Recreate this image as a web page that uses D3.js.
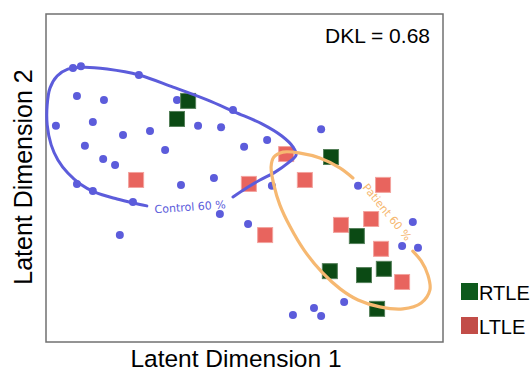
<!DOCTYPE html>
<html>
<head>
<meta charset="utf-8">
<script src="https://cdn.jsdelivr.net/npm/d3@7"></script>
<style>
  body { margin: 0; background: #fff; }
  text { font-family: "Liberation Sans", Arial, sans-serif; }
</style>
</head>
<body>
<div id="chart"></div>
<script>
// latent coordinates (0-100 on both dims)
const control = [
  [6.8, 83.5], [8.8, 84.1], [23.4, 81.4], [7.8, 75.0], [14.6, 73.8], [33.0, 73.8],
  [47.1, 70.7], [2.5, 65.9], [11.8, 67.1], [19.4, 63.1], [26.2, 64.3], [38.3, 65.9],
  [44.1, 65.5], [9.8, 59.8], [30.0, 58.5], [49.9, 59.5], [14.4, 55.8], [17.4, 54.0],
  [7.8, 48.2], [11.8, 46.0], [21.9, 42.7], [34.0, 47.9], [42.3, 50.0], [43.8, 39.0],
  [50.9, 36.0], [18.6, 32.6], [56.9, 47.6], [78.6, 47.6], [92.4, 36.6], [89.7, 29.3],
  [93.7, 28.7], [75.1, 12.2], [67.5, 10.4], [69.3, 7.9], [62.2, 8.2], [69.3, 64.9],
  [55.7, 61.6]
];
const ltle = [
  [22.7, 49.4], [51.1, 48.2], [55.2, 32.6], [60.5, 57.3], [65.2, 49.4],
  [84.9, 47.9], [74.3, 35.7], [81.9, 37.5], [84.4, 28.4], [89.7, 18.3]
];
const rtle = [
  [35.8, 73.5], [33.0, 68.0], [71.8, 56.4], [78.3, 32.3],
  [71.5, 21.6], [80.1, 20.4], [85.1, 22.3], [83.4, 10.1]
];

// 60 % density contours (open where the labels sit)
const controlContour = [
  [47.1, 44.2], [50.6, 47.0], [53.9, 49.4], [57.7, 51.8], [61.0, 54.6], [63.0, 57.0],
  [62.2, 59.5], [59.4, 62.8], [54.4, 66.5], [47.6, 70.1], [40.6, 73.8], [32.0, 77.7],
  [23.4, 81.4], [15.4, 83.2], [9.6, 83.8], [5.5, 83.2], [2.8, 81.1], [1.0, 77.4],
  [0.3, 72.3], [0.3, 66.2], [1.3, 60.1], [3.0, 55.5], [5.5, 51.5], [8.6, 48.2],
  [12.3, 45.7], [17.9, 43.6], [21.9, 42.4], [25.4, 41.5]
];
const patientContour = [
  [77.3, 50.0], [74.1, 53.0], [69.0, 56.1], [64.0, 57.6], [59.7, 57.9], [57.4, 56.4],
  [56.7, 53.4], [57.4, 47.9], [58.9, 41.8], [61.5, 35.1], [65.0, 28.0], [69.5, 21.3],
  [74.1, 16.2], [78.6, 12.8], [84.1, 10.7], [89.9, 10.1], [94.5, 11.9], [96.7, 15.9],
  [96.2, 20.4], [94.5, 24.7], [92.4, 27.7]
];

const contourLabels = ["Control 60 %", "Patient 60 %"];
const legendLabels = ["RTLE", "LTLE"];
const dkl = 0.68;

const W = 532, H = 373;
const blue = "#5c5cdb", orange = "#f6b871";
const green = "#0b4a14", red = "#e8645e";

const svg = d3.select("#chart").append("svg")
    .attr("width", W)
    .attr("height", H);

const x = d3.scaleLinear().domain([0, 100]).range([46, 443]);
const y = d3.scaleLinear().domain([0, 100]).range([342, 14]);

// frame
svg.append("rect")
    .attr("x", x(0)).attr("y", y(100))
    .attr("width", x(100) - x(0)).attr("height", y(0) - y(100))
    .attr("fill", "none")
    .attr("stroke", "#707070")
    .attr("stroke-width", 1.5);

svg.append("g").selectAll("circle")
  .data(control)
  .enter().append("circle")
    .attr("cx", d => x(d[0]))
    .attr("cy", d => y(d[1]))
    .attr("r", 4)
    .attr("fill", blue);

const sq = 15;
function squares(data, fill, edge) {
  svg.append("g").selectAll("rect")
    .data(data)
    .enter().append("rect")
      .attr("x", d => x(d[0]) - sq / 2)
      .attr("y", d => y(d[1]) - sq / 2)
      .attr("width", sq)
      .attr("height", sq)
      .attr("fill", fill)
      .attr("stroke", edge)
      .attr("stroke-width", 1);
}
squares(ltle, red, "#f3a39e");
squares(rtle, green, "#55805a");

const line = d3.line()
    .x(d => x(d[0]))
    .y(d => y(d[1]))
    .curve(d3.curveCatmullRom);

svg.append("path")
    .attr("d", line(controlContour))
    .attr("fill", "none")
    .attr("stroke", blue)
    .attr("stroke-width", 3)
    .attr("stroke-linecap", "round");

svg.append("path")
    .attr("d", line(patientContour))
    .attr("fill", "none")
    .attr("stroke", orange)
    .attr("stroke-width", 3.2)
    .attr("stroke-linecap", "round");

function clabel(txt, px, py, rot, color) {
  svg.append("text")
      .attr("transform", `translate(${x(px)},${y(py)}) rotate(${rot})`)
      .attr("text-anchor", "middle")
      .attr("dy", "0.35em")
      .attr("fill", color)
      .style("font-family", "'DejaVu Sans', sans-serif")
      .style("font-size", "11px")
      .text(txt);
}
clabel(contourLabels[0], 36.3, 41.2, -4, blue);
clabel(contourLabels[1], 85.9, 39.6, 51, orange);

svg.append("text")
    .attr("x", 430).attr("y", 43)
    .attr("text-anchor", "end")
    .style("font-size", "21px")
    .text("DKL = " + dkl.toFixed(2));

svg.append("text")
    .attr("x", 236).attr("y", 367)
    .attr("text-anchor", "middle")
    .style("font-size", "24.5px")
    .text("Latent Dimension 1");

svg.append("text")
    .attr("transform", "translate(32,177) rotate(-90)")
    .attr("text-anchor", "middle")
    .style("font-size", "25px")
    .text("Latent Dimension 2");

// legend
const legend = svg.append("g")
  .selectAll("g")
  .data(legendLabels)
  .enter().append("g")
    .attr("transform", (d, i) => `translate(461,${283 + i * 34})`);

legend.append("rect")
    .attr("width", 17).attr("height", 17)
    .attr("fill", (d, i) => i === 0 ? "#0d5a1c" : "#c24d48");

legend.append("text")
    .attr("x", 18).attr("y", 17)
    .style("font-size", "20px")
    .text(d => d);
</script>
</body>
</html>
